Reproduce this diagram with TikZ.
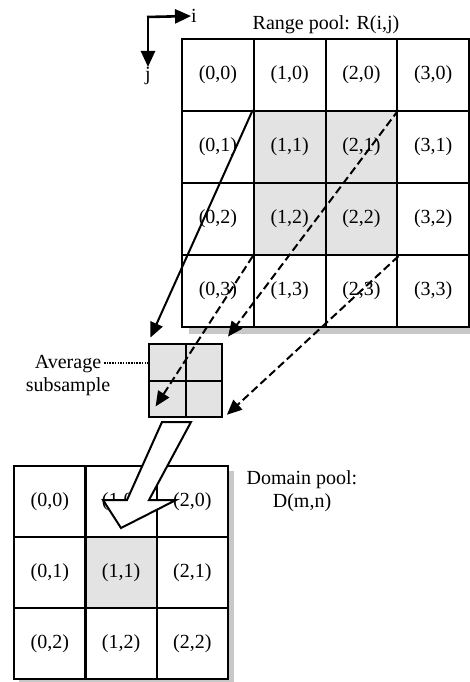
\documentclass[tikz,border=0pt]{standalone}
\usepackage{fontspec}
\setmainfont{Liberation Serif}
\usetikzlibrary{arrows.meta,calc}
\definecolor{shade}{HTML}{E3E3E3}
\definecolor{shadow}{HTML}{C8C8C8}
\begin{document}
\begin{tikzpicture}[x=1pt,y=-1pt,
  txt/.style={font=\fontsize{20}{23}\selectfont, inner sep=0pt},
  rcell/.style={txt, draw=black, fill=white, line width=2.2pt, minimum width=71.75pt, minimum height=72pt, anchor=north west},
  dcell/.style={txt, draw=black, fill=white, line width=2.2pt, minimum width=71.3pt, minimum height=71pt, anchor=north west},
  scell/.style={draw=black, line width=2.2pt, fill=shade, minimum size=36.5pt, inner sep=0pt, anchor=north west},
  maparrow/.style={line width=2pt, -{Triangle[length=15pt,width=13pt]}},
  axisarrow/.style={line width=2.6pt, -{Triangle[length=16pt,width=14pt]}},
]
\useasboundingbox (0,0) rectangle (470,682);
% shadows
\fill[shadow] (189,45) rectangle (476,334);
\fill[shadow] (19,471) rectangle (234,686);
% range grid
\foreach \i in {0,...,3}{
  \foreach \j in {0,...,3}{
    \node[rcell] (r-\i-\j) at ({181+71.75*\i},{38+72*\j}) {(\i,\j)};
  }
}
\foreach \i/\j in {1/1,2/1,1/2,2/2}{
  \node[rcell, fill=shade] at ({181+71.75*\i},{38+72*\j}) {(\i,\j)};
}
% domain grid
\foreach \i in {0,...,2}{
  \foreach \j in {0,...,2}{
    \node[dcell] (d-\i-\j) at ({13+71.3*\i},{465+71*\j}) {(\i,\j)};
  }
}
\node[dcell, fill=shade] at ({13+71.3},{465+71}) {(1,1)};
% small box
\foreach \i in {0,1}{
  \foreach \j in {0,1}{
    \node[scell] (s-\i-\j) at ({148+36.5*\i},{343+36.5*\j}) {};
  }
}
% labels
\node[txt, anchor=base] (rangelab) at (326,30) {Range pool: R(i,j)};
\node[txt, align=center, anchor=base] (avglab) at (68,391) {Average\\subsample};
\node[txt, align=center, anchor=base] (domlab) at (302,507) {Domain pool:\\D(m,n)};
% axes
\coordinate (ax) at (148,17);
\node[txt] (ilab) at (194,16) {i};
\node[txt, anchor=north] (jlab) at (148,67) {j};
\draw[axisarrow] (147,17) -- (ilab.west);
\draw[axisarrow] (ax) -- (jlab.north);
% mapping arrows
\draw[maparrow, shorten >=6pt] (r-1-1.north west) -- (s-0-0.north west);
\draw[maparrow, dash pattern=on 8pt off 4pt, shorten >=8pt] (r-2-1.north east) -- (s-1-0.north east);
\draw[maparrow, dash pattern=on 8pt off 4pt, shorten >=14pt] (r-1-2.south west) -- (s-0-1.south west);
\draw[maparrow, dash pattern=on 8pt off 4pt, shorten >=5pt] (r-2-2.south east) -- (s-1-1.south east);
% dotted pointer
\coordinate (dp) at (104,363);
\draw[line width=1.5pt, dash pattern=on 1.5pt off 1.2pt] (dp) -- (s-0-0.west |- dp);
% hollow arrow
\draw[line width=2pt, fill=white, line join=miter]
  (162,422) -- (191,422) -- (149,500) -- (176,500) -- (121,528) -- (103,500) -- (127,500) -- cycle;
\end{tikzpicture}
\end{document}
